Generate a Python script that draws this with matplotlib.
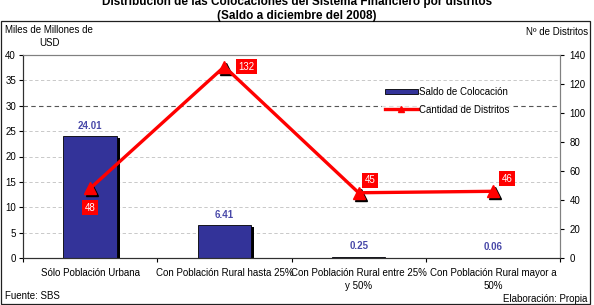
import matplotlib
matplotlib.use("Agg")
import matplotlib.pyplot as plt
import matplotlib.transforms as mtransforms
from matplotlib.patches import Rectangle, Patch
from matplotlib.lines import Line2D

plt.rcParams['font.family'] = ['Liberation Sans', 'DejaVu Sans']

categories = ["Sólo Población Urbana", "Con Población Rural hasta 25%",
              "Con Población Rural entre 25%\ny 50%", "Con Población Rural mayor a\n50%"]
saldo = [24.01, 6.41, 0.25, 0.06]
distritos = [48, 132, 45, 46]
saldo_labels = ["24.01", "6.41", "0.25", "0.06"]
left_ticks = [0, 5, 10, 15, 20, 25, 30, 35, 40]
right_ticks = [0, 20, 40, 60, 80, 100, 120, 140]

W, H = 594, 305
fig = plt.figure(figsize=(W / 100, H / 100), dpi=100)
ax = fig.add_axes([23 / W, 1 - 258 / H, (560 - 23) / W, (258 - 55) / H])
ax2 = ax.twinx()

x = list(range(len(categories)))
navy = "#333399"
red = "#ff0000"

# gridlines
for v in left_ticks[1:-1]:
    ax.axhline(v, color="#555555" if v == 30 else "#c0c0c0", lw=0.8 if v == 30 else 0.6,
               ls=(0, (4, 3)), zorder=0)

# bar shadows and bars
shadow_tr = ax.transData + mtransforms.ScaledTranslation(3 / 100, -2 / 100, fig.dpi_scale_trans)
ax.bar(x, saldo, width=0.4, color="black", transform=shadow_tr, zorder=1)
ax.bar(x, saldo, width=0.4, color=navy, edgecolor="black", lw=0.6, zorder=2)
for xi, v, lab in zip(x, saldo, saldo_labels):
    ax.annotate(lab, (xi, v), xytext=(0, 4), textcoords="offset points", ha="center",
                va="bottom", fontsize=7, fontweight="bold", color="#4848a8")

ax.set_xlim(-0.5, 3.5)
ax.set_ylim(0, 40)
ax.set_yticks(left_ticks)
ax.set_xticks([-0.5, 0.5, 1.5, 2.5, 3.5])
ax.set_xticklabels([])
ax.set_xticks(x, minor=True)
ax.set_xticklabels(categories, minor=True, fontsize=7, linespacing=1.45)
ax.tick_params(axis="x", which="minor", length=0, pad=7)
ax.tick_params(axis="x", which="major", length=3, direction="out")
ax.tick_params(axis="y", labelsize=7, length=3, direction="out", pad=2)
for s in ["top", "right"]:
    ax.spines[s].set_color("#808080")
for s in ["left", "bottom"]:
    ax.spines[s].set_color("#303030")

# line
mk_tr = ax2.transData + mtransforms.ScaledTranslation(2 / 100, -2 / 100, fig.dpi_scale_trans)
ax2.plot(x, distritos, ls="none", marker="^", ms=8, color="black", transform=mk_tr, zorder=3)
ax2.plot(x, distritos, color=red, lw=2.4, marker="^", ms=8, zorder=4)
offsets = [(0, -14), (16, 0), (8, 9), (10, 9)]
for xi, v, off in zip(x, distritos, offsets):
    ax2.annotate(str(v), (xi, v), xytext=off, textcoords="offset points", ha="center",
                 va="center", fontsize=7, color="white",
                 bbox=dict(boxstyle="square,pad=0.25", fc=red, ec="none"), zorder=5)
ax2.set_ylim(0, 140)
ax2.set_yticks(right_ticks)
ax2.tick_params(axis="y", labelsize=7, length=3, direction="out", pad=4)
ax2.spines["right"].set_color("#808080")
ax2.spines["top"].set_color("#808080")
ax2.spines["left"].set_color("#303030")
ax2.spines["bottom"].set_color("#303030")

handles = [Patch(facecolor=navy, edgecolor="black", lw=0.6),
           Line2D([0], [0], color=red, lw=2.4, marker="^", ms=5)]
leg = ax2.legend(handles, ["Saldo de Colocación", "Cantidad de Distritos"],
                 loc="upper left", bbox_to_anchor=(377 / W, 1 - 79 / H),
                 bbox_transform=fig.transFigure, frameon=True, fontsize=7,
                 handlelength=3.4, handleheight=0.5, handletextpad=0.1,
                 labelspacing=0.8, borderpad=0.3, fancybox=False)
leg.get_frame().set_facecolor("white")
leg.get_frame().set_edgecolor("none")
leg.set_zorder(10)

# texts
fig.text(0.5, 1 - 2.5 / H, "Distribución de las Colocaciones del Sistema Financiero por distritos",
         ha="center", va="center", fontsize=8.5, fontweight="bold")
fig.text(0.5, 1 - 16 / H, "(Saldo a diciembre del 2008)", ha="center", va="center",
         fontsize=8.5, fontweight="bold")
fig.text(49 / W, 1 - 36.5 / H, "Miles de Millones de\nUSD", ha="center", va="center",
         fontsize=7, linespacing=1.35)
fig.text(588 / W, 1 - 32 / H, "Nº de Distritos", ha="right", va="center", fontsize=7)
fig.text(5 / W, 1 - 296 / H, "Fuente: SBS", ha="left", va="center", fontsize=7)
fig.text(587 / W, 1 - 299 / H, "Elaboración: Propia", ha="right", va="center", fontsize=7)

fig.add_artist(Rectangle((1 / W, 1 / H), 589 / W, (H - 22) / H, transform=fig.transFigure,
                         fill=False, ec="#202020", lw=0.9))

fig.savefig("out.png", dpi=100)
